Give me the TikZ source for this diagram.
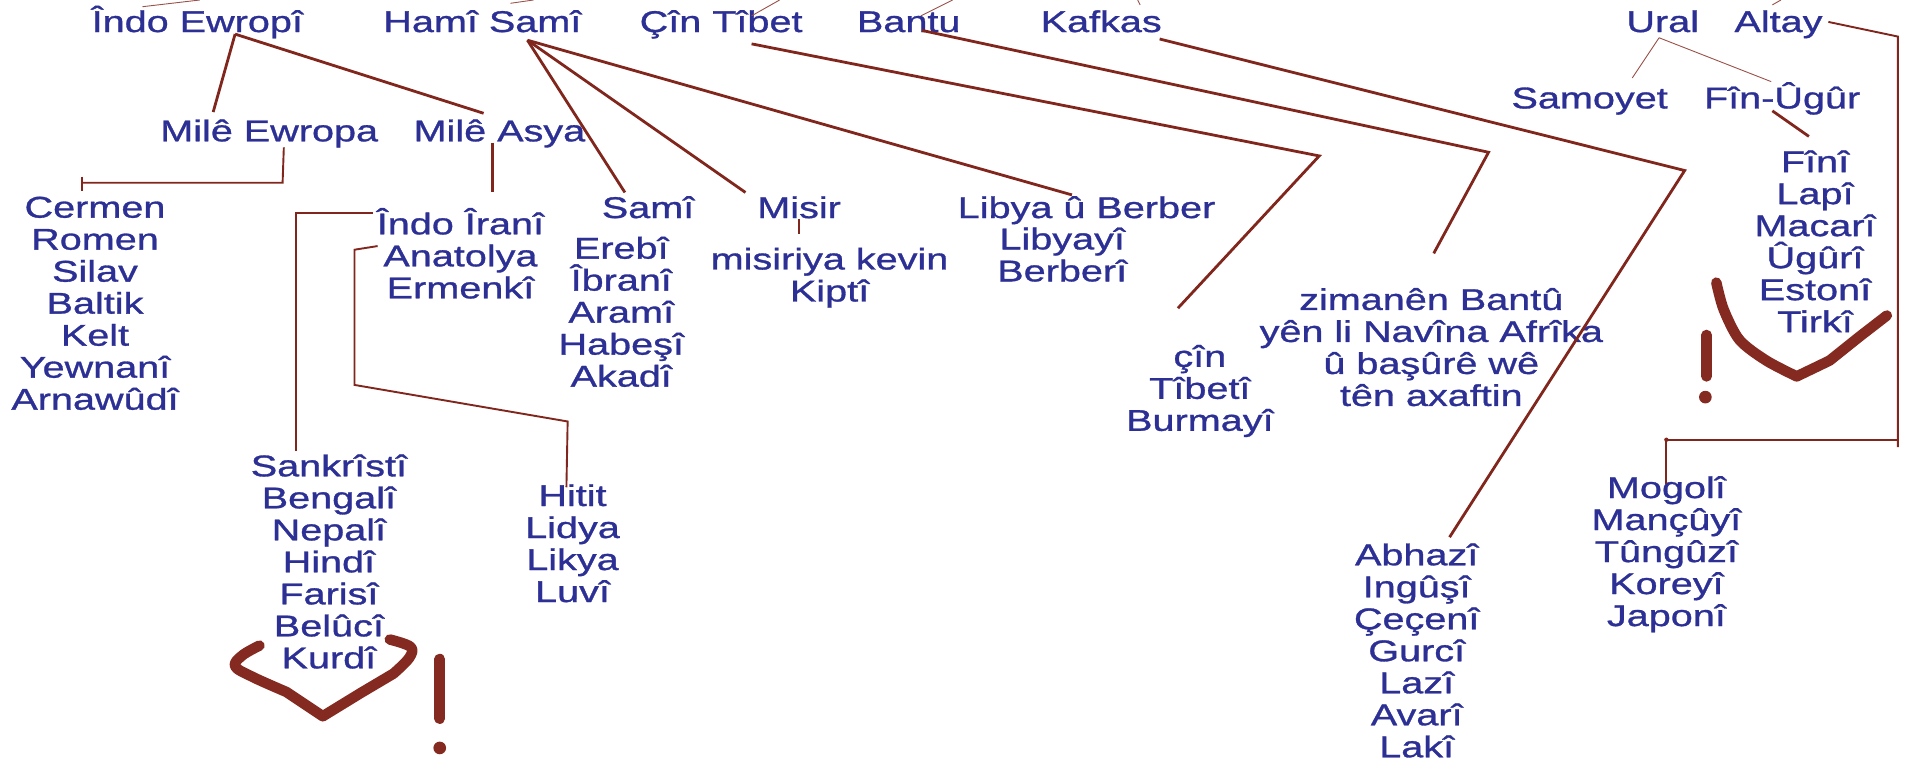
\documentclass[tikz,border=0pt]{standalone}
\usepackage{fontspec}
\setmainfont[FakeStretch=1.32,FakeBold=1]{Liberation Sans}
\definecolor{txtblue}{RGB}{44,47,148}
\definecolor{linered}{RGB}{128,38,28}
\definecolor{scribred}{RGB}{132,42,32}
\begin{document}
\begin{tikzpicture}[x=1.21811pt,y=-1.21811pt,
  lbl/.style={text=txtblue, font=\fontsize{30}{32}\selectfont, align=center, inner sep=0pt},
  one/.style={lbl, anchor=base},
  con/.style={draw=linered, line width=2.8pt, line join=miter},
  conthin/.style={draw=linered, line width=1.9pt},
  hair/.style={draw=linered!80, line width=0.9pt},
  scrib/.style={draw=scribred, line width=10.5pt, line cap=round, line join=round},
  dotmark/.style={fill=scribred, draw=none}]
\useasboundingbox (0,0) rectangle (1568,629);

% ---------- top row ----------
\node[one] (ie) at (162,26.3) {Îndo Ewropî};
\node[one] (hs) at (396,26.3) {Hamî Samî};
\node[one] (ct) at (592,26.3) {Çîn Tîbet};
\node[one] (bantu) at (746,26.3) {Bantu};
\node[one] (kafkas) at (904,26.3) {Kafkas};
\node[one] (ural) at (1365,26.3) {Ural};
\node[one] (altay) at (1460,26.3) {Altay};

% ---------- second level ----------
\node[one] (me) at (221,116) {Milê Ewropa};
\node[one] (ma) at (410,116) {Milê Asya};
\node[one] (samoyet) at (1305,89) {Samoyet};
\node[one] (fu) at (1463,89) {Fîn-Ûgûr};

% ---------- lists ----------
\node[lbl] (eur) at (78,249) {Cermen\\Romen\\Silav\\Baltik\\Kelt\\Yewnanî\\Arnawûdî};
\node[lbl] (ii) at (378,208) {Îndo Îranî\\Anatolya\\Ermenkî};
\node[one] (sami) at (532,179) {Samî};
\node[lbl] (samil) at (510,256) {Erebî\\Îbranî\\Aramî\\Habeşî\\Akadî};
\node[one] (misir) at (656,179) {Misir};
\node[lbl] (misirl) at (681,228) {misiriya kevin\\Kiptî};
\node[one] (libya) at (892,179) {Libya û Berber};
\node[lbl] (libyal) at (872,209) {Libyayî\\Berberî};
\node[lbl] (bantul) at (1175,285) {zimanên Bantû\\yên li Navîna Afrîka\\û başûrê wê\\tên axaftin};
\node[lbl] (cinl) at (985,321) {çîn\\Tîbetî\\Burmayî};
\node[lbl] (finl) at (1490,198) {Fînî\\Lapî\\Macarî\\Ûgûrî\\Estonî\\Tirkî};
\node[lbl] (ind) at (270,461) {Sankrîstî\\Bengalî\\Nepalî\\Hindî\\Farisî\\Belûcî\\Kurdî};
\node[lbl] (hit) at (470,446) {Hitit\\Lidya\\Likya\\Luvî};
\node[lbl] (kaf) at (1163,534) {Abhazî\\Ingûşî\\Çeçenî\\Gurcî\\Lazî\\Avarî\\Lakî};
\node[lbl] (alt) at (1368,455) {Mogolî\\Mançûyî\\Tûngûzî\\Koreyî\\Japonî};

% ---------- stubs toward the cut-off parent ----------
\coordinate (top1) at (164,0);
\coordinate (top2) at (438,0);
\coordinate (top3) at (640,0);
\coordinate (top4) at (782,0);
\coordinate (top5) at (934,0);
\coordinate (top6) at (1462,0);
\draw[hair] (117,5.5) -- (top1);
\draw[hair] (419,2.7) -- (top2);
\draw[hair] (617,13) -- (top3);
\draw[hair] (756,13) -- (top4);
\draw[hair] (936,4) -- (top5);
\draw[hair] (1455,4) -- (top6);

% ---------- Indo-European ----------
\coordinate (ie-o) at (193,28);
\draw[con] (ie-o) -- (175,92);
\draw[con] (ie-o) -- (397,93);
\coordinate (me-c) at (232,150);
\coordinate (eur-t) at (67,150);
\draw[conthin] (233,121) -- (me-c) -- (eur-t);
\draw[conthin] (67,145) -- (67,157);
\draw[con] (404,117) -- (404,158);
\coordinate (ii-c) at (243,175);
\draw[conthin] (306,175) -- (ii-c) -- (243,370);
\coordinate (an-c) at (291,205);
\coordinate (an-d) at (291,316);
\coordinate (hit-c) at (466,346);
\draw[conthin] (310,202) -- (an-c) -- (an-d) -- (hit-c) -- (465,400);

% ---------- Afro-Asiatic ----------
\coordinate (hs-o) at (433,33);
\draw[con] (hs-o) -- (513,158);
\draw[con] (hs-o) -- (612,158);
\draw[con] (hs-o) -- (880,160);
\draw[con] (656,180) -- (656,192);

% ---------- Sino-Tibetan, Bantu, Caucasian ----------
\coordinate (ct-c) at (1083,128);
\draw[con] (617,36) -- (ct-c) -- (967,253);
\coordinate (ba-c) at (1222,125);
\draw[con] (757,25) -- (ba-c) -- (1177,208);
\coordinate (ka-c) at (1383,140);
\draw[con] (952,32) -- (ka-c) -- (1190,441);

% ---------- Uralic / Altaic ----------
\coordinate (ur-o) at (1362,31);
\draw[hair] (ur-o) -- (1340,64);
\draw[hair] (ur-o) -- (1454,67);
\draw[con] (1455,91) -- (1485,112);
\coordinate (al-a) at (1558,30);
\coordinate (al-b) at (1558,361);
\coordinate (al-c) at (1368,361);
\draw[conthin] (1501,18) -- (al-a) -- (1558,367);
\draw[conthin] (al-b) -- (al-c) -- (1368,397);
\fill[linered] (al-c) circle (1.8);

% ---------- hand-drawn marks ----------
\draw[scrib] plot[smooth, tension=0.6] coordinates {(213,530) (199,538) (193,547) (208,556) (235,568)}
  -- (265,588) -- (296,569) -- (323,553)
  plot[smooth, tension=0.6] coordinates {(323,553) (336,540) (337,531) (320,525)};
\draw[scrib] (361,541) -- (361,590);
\fill[dotmark] (361,614) circle (5.2);

\draw[scrib] plot[smooth, tension=0.5] coordinates {(1409,232) (1415,254) (1428,279) (1450,296) (1475,309)}
  -- (1502,296) -- (1527,276) -- (1549,259);
\draw[scrib] (1401,275) -- (1401,309);
\fill[dotmark] (1400,326) circle (5.2);
\end{tikzpicture}
\end{document}
